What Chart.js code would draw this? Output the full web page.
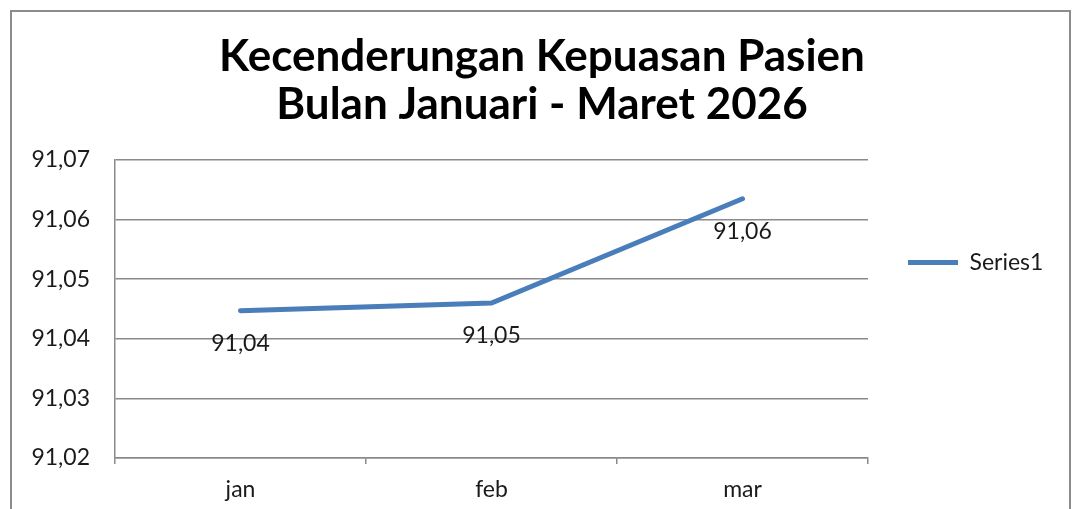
<!DOCTYPE html>
<html>
<head>
<meta charset="utf-8">
<script src="https://cdn.jsdelivr.net/npm/chart.js@4.4.1/dist/chart.umd.min.js"></script>
<style>
  html, body { margin: 0; padding: 0; background: #fff; overflow: hidden; }
  #wrap { position: relative; width: 1075px; height: 509px; }
  #frame { position: absolute; left: 10px; top: 10px; width: 1057px; height: 520px; border: 2px solid #8c8c8c; pointer-events: none; }
</style>
</head>
<body>
<div id="wrap">
  <canvas id="graph" width="1075" height="509"></canvas>
  <div id="frame"></div>
</div>
<script>
// -------------------------
// DATA
// -------------------------
const months = ["jan", "feb", "mar"];
const satisfaction = [91.0447, 91.0460, 91.0635];
const seriesName = "Series1";
const titleLines = ["Kecenderungan Kepuasan Pasien", "Bulan Januari - Maret 2026"];
const yMin = 91.02;
const yMax = 91.07;
const yStep = 0.01;

// -------------------------
// STYLE
// -------------------------
const FONT = "Lato";
const FONT_SIZE = 23;
const TEXT = "#1a1a1a";
const GRID = "#8a8a8a";
const LINE = "#4a7ebb";

const fmt = v => v.toFixed(2).replace(".", ",");

// legend width, so the plot ends where the picture's does (x = 868)
const measure = document.createElement("canvas").getContext("2d");
measure.font = FONT_SIZE + "px " + FONT;
const legendItemWidth = 50 + FONT_SIZE / 2 + measure.measureText(seriesName).width;
const padRight = 1075 - 868 - 40 - 10 - legendItemWidth;
// title is centred between the paddings, the picture has it at x = 542
const padLeft = 2 * 542 - 1075 + padRight;

// -------------------------
// VALUE LABELS UNDER POINTS
// -------------------------
const pointLabels = {
  id: "pointLabels",
  afterDatasetsDraw(chart) {
    const ctx = chart.ctx;
    const meta = chart.getDatasetMeta(0);
    ctx.save();
    ctx.font = FONT_SIZE + "px " + FONT;
    ctx.fillStyle = TEXT;
    ctx.textAlign = "center";
    ctx.textBaseline = "middle";
    meta.data.forEach((pt, i) => {
      ctx.fillText(fmt(satisfaction[i]), pt.x, pt.y + 33);
    });
    ctx.restore();
  }
};

// -------------------------
// CHART
// -------------------------
const ctx = document.getElementById("graph").getContext("2d");

new Chart(ctx, {
  type: "line",
  data: {
    labels: months,
    datasets: [{
      label: seriesName,
      data: satisfaction,
      borderColor: LINE,
      backgroundColor: LINE,
      borderWidth: 5,
      borderCapStyle: "round",
      pointRadius: 0,
      pointHoverRadius: 0,
      tension: 0,
      fill: false
    }]
  },
  options: {
    responsive: false,
    animation: false,
    events: [],
    layout: {
      padding: { left: padLeft, top: 0, bottom: 0, right: padRight }
    },
    plugins: {
      title: {
        display: true,
        text: titleLines,
        color: "#000",
        font: { family: FONT, size: 44, weight: "bold", lineHeight: 48 / 44 },
        padding: { top: 33, bottom: 31 }
      },
      legend: {
        position: "right",
        align: "start",
        fullSize: false,
        // empty title only pushes the entry down to the picture's height
        title: { display: true, text: " ", font: { size: 10 }, padding: { top: 39, bottom: 0 } },
        labels: {
          usePointStyle: true,
          pointStyle: "line",
          pointStyleWidth: 50,
          padding: 40,
          color: TEXT,
          font: { family: FONT, size: FONT_SIZE }
        }
      },
      tooltip: { enabled: false }
    },
    scales: {
      x: {
        offset: true,
        afterFit: s => { s.height = 51; },
        grid: { offset: true, drawOnChartArea: false, tickLength: 6, color: GRID, lineWidth: 1.5 },
        border: { display: true, color: GRID, width: 1.5 },
        ticks: { color: TEXT, padding: 12, font: { family: FONT, size: FONT_SIZE } }
      },
      y: {
        min: yMin,
        max: yMax,
        afterFit: s => { s.width = 115 - padLeft; },
        grid: { drawTicks: false, color: GRID, lineWidth: 1.5 },
        border: { display: true, color: GRID, width: 1.5 },
        ticks: {
          stepSize: yStep,
          padding: 25,
          color: TEXT,
          font: { family: FONT, size: FONT_SIZE },
          callback: v => fmt(v)
        }
      }
    }
  },
  plugins: [pointLabels]
});
</script>
</body>
</html>
